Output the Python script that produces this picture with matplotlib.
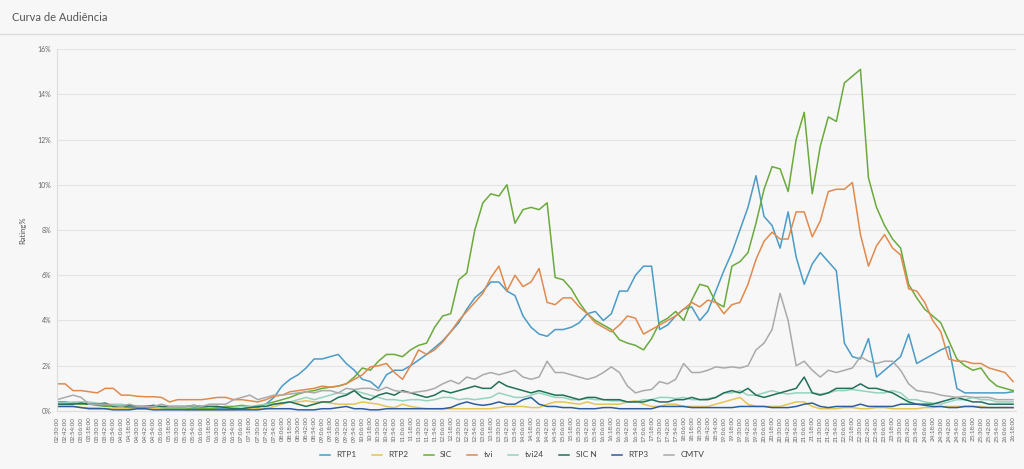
import matplotlib.pyplot as plt

# time axis: every 12 minutes from 02:30:00 to 26:18:00
start_min = 150
step_min = 12
n_points = 120
tick_labels = []
for i in range(n_points):
    m = start_min + step_min * i
    tick_labels.append(f"{m // 60:02d}:{m % 60:02d}:00")

channels = ['RTP1', 'RTP2', 'SIC', 'tvi', 'tvi24', 'SIC N', 'RTP3', 'CMTV']
colors = ['#4a9bc7', '#e5c458', '#6aaa3c', '#e08a4e', '#94d4bc', '#22705a', '#2e5d9e', '#aaaaaa']

rtp1 = [0.4, 0.4, 0.35, 0.3, 0.3, 0.3, 0.25, 0.2, 0.2, 0.2, 0.15, 0.15, 0.15, 0.1, 0.1, 0.1, 0.1, 0.1, 0.15, 0.1,
        0.1, 0.1, 0.1, 0.1, 0.15, 0.2, 0.3, 0.6, 1.1, 1.4, 1.6, 1.9, 2.3, 2.3, 2.4, 2.5, 2.1, 1.8, 1.4, 1.3,
        1.0, 1.6, 1.8, 1.8, 2.0, 2.25, 2.5, 2.8, 3.1, 3.5, 3.9, 4.5, 5.0, 5.3, 5.7, 5.7, 5.3, 5.1, 4.2, 3.7,
        3.4, 3.3, 3.6, 3.6, 3.7, 3.9, 4.3, 4.4, 4.0, 4.3, 5.3, 5.3, 6.0, 6.4, 6.4, 3.6, 3.8, 4.2, 4.5, 4.6,
        4.0, 4.4, 5.3, 6.2, 7.0, 8.0, 9.0, 10.4, 8.6, 8.2, 7.2, 8.8, 6.8, 5.6, 6.5, 7.0, 6.6, 6.2, 3.0, 2.4,
        2.3, 3.2, 1.5, 1.8, 2.1, 2.4, 3.4, 2.1, 2.3, 2.5, 2.7, 2.85, 1.0, 0.8, 0.8, 0.8, 0.8, 0.8, 0.8, 0.85]

rtp2 = [0.2, 0.2, 0.2, 0.15, 0.15, 0.15, 0.1, 0.1, 0.1, 0.1, 0.1, 0.1, 0.1, 0.1, 0.1, 0.1, 0.05, 0.05, 0.05, 0.05,
        0.05, 0.05, 0.05, 0.1, 0.1, 0.1, 0.1, 0.2, 0.3, 0.4, 0.4, 0.45, 0.4, 0.4, 0.35, 0.3, 0.3, 0.3, 0.4, 0.35,
        0.3, 0.2, 0.15, 0.3, 0.2, 0.15, 0.1, 0.1, 0.1, 0.1, 0.1, 0.1, 0.1, 0.1, 0.1, 0.15, 0.2, 0.2, 0.2, 0.15,
        0.15, 0.3, 0.4, 0.4, 0.35, 0.3, 0.4, 0.3, 0.3, 0.3, 0.3, 0.4, 0.45, 0.3, 0.2, 0.2, 0.3, 0.3, 0.2, 0.2,
        0.2, 0.2, 0.3, 0.4, 0.5, 0.6, 0.3, 0.2, 0.2, 0.2, 0.2, 0.3, 0.4, 0.4, 0.2, 0.1, 0.1, 0.1, 0.15, 0.15,
        0.1, 0.1, 0.15, 0.15, 0.1, 0.1, 0.1, 0.1, 0.15, 0.15, 0.2, 0.2, 0.2, 0.2, 0.2, 0.2, 0.15, 0.15, 0.15, 0.15]

sic = [0.3, 0.3, 0.35, 0.3, 0.3, 0.25, 0.2, 0.2, 0.2, 0.15, 0.15, 0.2, 0.2, 0.15, 0.1, 0.1, 0.1, 0.15, 0.1, 0.1,
       0.15, 0.2, 0.2, 0.25, 0.2, 0.15, 0.3, 0.4, 0.5, 0.6, 0.75, 0.85, 0.9, 1.0, 1.05, 1.1, 1.2, 1.5, 1.9, 1.8,
       2.2, 2.5, 2.5, 2.4, 2.7, 2.9, 3.0, 3.7, 4.2, 4.3, 5.8, 6.1, 8.0, 9.2, 9.6, 9.5, 10.0, 8.3, 8.9, 9.0,
       8.9, 9.2, 5.9, 5.8, 5.4, 4.8, 4.3, 4.0, 3.8, 3.6, 3.15, 3.0, 2.9, 2.7, 3.2, 3.9, 4.1, 4.4, 4.0, 4.9,
       5.6, 5.5, 4.8, 4.6, 6.4, 6.6, 7.0, 8.3, 9.8, 10.8, 10.7, 9.7, 12.0, 13.2, 9.6, 11.7, 13.0, 12.8, 14.5, 14.8,
       15.1, 10.3, 9.0, 8.2, 7.6, 7.2, 5.6, 5.0, 4.5, 4.2, 3.9, 3.1, 2.3, 2.0, 1.8, 1.9, 1.4, 1.1, 1.0, 0.9]

tvi = [1.2, 1.2, 0.9, 0.9, 0.85, 0.8, 1.0, 1.0, 0.7, 0.7, 0.65, 0.63, 0.63, 0.6, 0.4, 0.5, 0.5, 0.5, 0.5, 0.55,
       0.6, 0.6, 0.5, 0.5, 0.45, 0.4, 0.5, 0.65, 0.7, 0.85, 0.9, 0.95, 1.0, 1.1, 1.05, 1.1, 1.2, 1.4, 1.6, 1.95,
       2.0, 2.1, 1.7, 1.4, 2.0, 2.7, 2.5, 2.7, 3.05, 3.5, 4.0, 4.4, 4.8, 5.2, 5.9, 6.4, 5.3, 6.0, 5.5, 5.7,
       6.3, 4.8, 4.7, 5.0, 5.0, 4.6, 4.3, 3.9, 3.7, 3.5, 3.8, 4.2, 4.1, 3.4, 3.6, 3.8, 4.0, 4.2, 4.5, 4.8,
       4.6, 4.9, 4.8, 4.3, 4.7, 4.8, 5.6, 6.7, 7.5, 7.9, 7.6, 7.6, 8.8, 8.8, 7.7, 8.4, 9.7, 9.8, 9.8, 10.1,
       7.8, 6.4, 7.3, 7.8, 7.2, 6.9, 5.4, 5.3, 4.8, 4.0, 3.5, 2.3, 2.2, 2.2, 2.1, 2.1, 1.9, 1.8, 1.7, 1.3]

tvi24 = [0.35, 0.35, 0.4, 0.4, 0.4, 0.35, 0.3, 0.3, 0.3, 0.25, 0.2, 0.2, 0.2, 0.15, 0.15, 0.15, 0.15, 0.2, 0.2, 0.2,
         0.2, 0.15, 0.15, 0.2, 0.2, 0.25, 0.3, 0.3, 0.35, 0.4, 0.5, 0.6, 0.5, 0.6, 0.7, 0.8, 0.75, 0.9, 0.8, 0.7,
         0.6, 0.5, 0.5, 0.45, 0.5, 0.5, 0.45, 0.5, 0.6, 0.6, 0.5, 0.55, 0.5, 0.55, 0.6, 0.8, 0.7, 0.6, 0.6, 0.7,
         0.8, 0.7, 0.6, 0.6, 0.5, 0.5, 0.55, 0.5, 0.5, 0.45, 0.45, 0.4, 0.4, 0.5, 0.5, 0.6, 0.6, 0.55, 0.6, 0.5,
         0.5, 0.55, 0.6, 0.8, 0.8, 0.9, 0.7, 0.7, 0.8, 0.9, 0.8, 0.75, 0.8, 0.8, 0.8, 0.75, 0.8, 0.9, 0.9, 0.95,
         0.9, 0.85, 0.8, 0.8, 0.9, 0.8, 0.5, 0.5, 0.4, 0.35, 0.3, 0.4, 0.5, 0.5, 0.6, 0.5, 0.5, 0.4, 0.4, 0.4]

sicn = [0.3, 0.3, 0.3, 0.35, 0.3, 0.3, 0.35, 0.2, 0.2, 0.25, 0.2, 0.2, 0.25, 0.2, 0.2, 0.2, 0.2, 0.25, 0.2, 0.2,
        0.2, 0.15, 0.1, 0.1, 0.15, 0.2, 0.2, 0.3, 0.35, 0.4, 0.3, 0.2, 0.3, 0.4, 0.4, 0.6, 0.7, 0.9, 0.6, 0.5,
        0.7, 0.8, 0.7, 0.9, 0.8, 0.7, 0.6, 0.7, 0.9, 0.8, 0.9, 1.0, 1.1, 1.0, 1.0, 1.3, 1.1, 1.0, 0.9, 0.8,
        0.9, 0.8, 0.7, 0.7, 0.6, 0.5, 0.6, 0.6, 0.5, 0.5, 0.5, 0.4, 0.4, 0.4, 0.5, 0.4, 0.4, 0.5, 0.5, 0.6,
        0.5, 0.5, 0.6, 0.8, 0.9, 0.8, 1.0, 0.7, 0.6, 0.7, 0.8, 0.9, 1.0, 1.5, 0.8, 0.7, 0.8, 1.0, 1.0, 1.0,
        1.2, 1.0, 1.0, 0.9, 0.8, 0.6, 0.4, 0.3, 0.3, 0.3, 0.4, 0.5, 0.6, 0.5, 0.4, 0.4, 0.3, 0.3, 0.3, 0.3]

rtp3 = [0.2, 0.2, 0.2, 0.15, 0.1, 0.1, 0.1, 0.05, 0.05, 0.05, 0.1, 0.1, 0.05, 0.05, 0.05, 0.05, 0.05, 0.05, 0.05, 0.05,
        0.05, 0.05, 0.05, 0.05, 0.05, 0.05, 0.1, 0.1, 0.1, 0.1, 0.05, 0.05, 0.05, 0.1, 0.1, 0.15, 0.2, 0.1, 0.1, 0.05,
        0.05, 0.1, 0.1, 0.1, 0.1, 0.1, 0.1, 0.1, 0.1, 0.15, 0.3, 0.4, 0.3, 0.25, 0.3, 0.4, 0.3, 0.3, 0.5, 0.6,
        0.3, 0.2, 0.2, 0.15, 0.15, 0.1, 0.1, 0.1, 0.15, 0.15, 0.1, 0.1, 0.1, 0.1, 0.1, 0.2, 0.2, 0.2, 0.2, 0.15,
        0.15, 0.15, 0.15, 0.15, 0.15, 0.2, 0.2, 0.2, 0.2, 0.15, 0.15, 0.15, 0.2, 0.3, 0.35, 0.2, 0.15, 0.2, 0.2, 0.2,
        0.3, 0.2, 0.2, 0.2, 0.2, 0.3, 0.3, 0.3, 0.25, 0.2, 0.2, 0.15, 0.15, 0.2, 0.2, 0.15, 0.15, 0.15, 0.15, 0.15]

cmtv = [0.5, 0.6, 0.7, 0.6, 0.3, 0.3, 0.3, 0.25, 0.2, 0.3, 0.2, 0.2, 0.2, 0.3, 0.2, 0.2, 0.2, 0.25, 0.2, 0.3,
        0.3, 0.3, 0.5, 0.6, 0.7, 0.5, 0.6, 0.7, 0.7, 0.75, 0.8, 0.85, 0.8, 0.9, 0.9, 0.8, 1.0, 0.95, 1.0, 1.0,
        0.9, 1.05, 0.9, 0.85, 0.8, 0.85, 0.9, 1.0, 1.2, 1.35, 1.2, 1.5, 1.4, 1.6, 1.7, 1.6, 1.7, 1.8, 1.5, 1.4,
        1.5, 2.2, 1.7, 1.7, 1.6, 1.5, 1.4, 1.5, 1.7, 1.95, 1.7, 1.1, 0.8, 0.9, 0.95, 1.3, 1.2, 1.4, 2.1, 1.7,
        1.7, 1.8, 1.95, 1.9, 1.95, 1.9, 2.0, 2.7, 3.0, 3.6, 5.2, 4.0, 2.0, 2.2, 1.8, 1.5, 1.8, 1.7, 1.8, 1.9,
        2.4, 2.2, 2.1, 2.2, 2.2, 1.8, 1.2, 0.9, 0.85, 0.8, 0.7, 0.65, 0.6, 0.65, 0.6, 0.6, 0.6, 0.5, 0.5, 0.5]

series = [rtp1, rtp2, sic, tvi, tvi24, sicn, rtp3, cmtv]
x = list(range(n_points))

plt.rcParams['font.family'] = ['Lato', 'DejaVu Sans']
bg = '#f7f7f7'
fig = plt.figure(figsize=(10.24, 4.69), dpi=100, facecolor=bg)
fig.text(0.012, 0.962, 'Curva de Audiência', fontsize=8, color='#555555', va='center')
fig.add_artist(plt.Line2D([0, 1], [0.928, 0.928], color='#dddddd', lw=1))

ax = fig.add_axes([0.0557, 0.1237, 0.936, 0.7718], facecolor=bg)
for vals, col, name in zip(series, colors, channels):
    assert len(vals) == n_points, name
    ax.plot(x, vals, color=col, lw=1.1, label=name)

ax.set_xlim(0, n_points - 0.7)
ax.set_ylim(0, 16)
ax.set_yticks(range(0, 17, 2))
ax.set_yticklabels([f'{v}%' for v in range(0, 17, 2)], fontsize=5, color='#666666')
ax.set_xticks(x)
ax.set_xticklabels(tick_labels, rotation=90, fontsize=4.5, color='#666666')
ax.tick_params(length=0, pad=4)
ax.set_ylabel('Rating%', fontsize=5.5, color='#555555', labelpad=8)
ax.grid(axis='y', color='#e4e4e4', lw=0.8)
ax.set_axisbelow(True)
for side in ['top', 'right']:
    ax.spines[side].set_visible(False)
ax.spines['left'].set_color('#dddddd')
ax.spines['bottom'].set_color('#dddddd')

fig.legend(loc='center', bbox_to_anchor=(0.5, 0.03), ncol=8, frameon=False,
           fontsize=6, handlelength=1.2, columnspacing=1.8, labelcolor='#444444')

fig.savefig('out.png', dpi=100, facecolor=bg)
